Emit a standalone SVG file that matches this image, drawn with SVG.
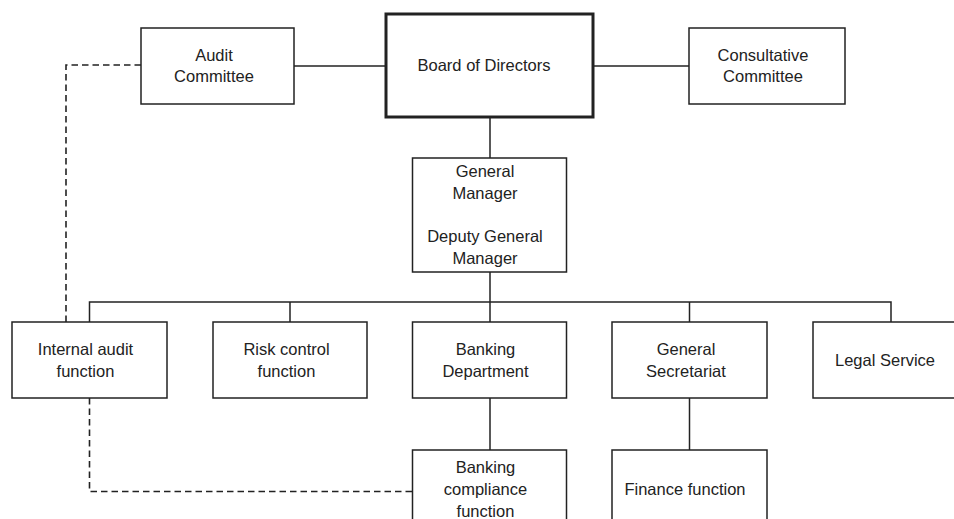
<svg xmlns="http://www.w3.org/2000/svg" width="954" height="519" viewBox="0 0 954 519">
<style>
.box{fill:#fff;stroke:#222;stroke-width:1.5}
.thick{fill:#fff;stroke:#222;stroke-width:3}
.ln{fill:none;stroke:#222;stroke-width:1.5}
.dash{fill:none;stroke:#222;stroke-width:1.6;stroke-dasharray:6.5,4}
text{font-family:"Liberation Sans",Arial,sans-serif;font-size:16.5px;fill:#222;text-anchor:middle}
</style>
<rect width="954" height="519" fill="#fff"/>
<g id="connectors">
<line class="ln" x1="294" y1="66" x2="386" y2="66"/>
<line class="ln" x1="593" y1="66" x2="689" y2="66"/>
<line class="ln" x1="490" y1="117" x2="490" y2="158"/>
<line class="ln" x1="490" y1="272" x2="490" y2="302"/>
<polyline class="ln" points="89.5,322 89.5,302 891,302 891,322"/>
<line class="ln" x1="290" y1="302" x2="290" y2="322"/>
<line class="ln" x1="490" y1="302" x2="490" y2="322"/>
<line class="ln" x1="689.5" y1="302" x2="689.5" y2="322"/>
<line class="ln" x1="490" y1="398" x2="490" y2="450"/>
<line class="ln" x1="689.5" y1="398" x2="689.5" y2="450"/>
<polyline class="dash" points="141,65 66,65 66,322"/>
<polyline class="dash" points="89.5,398 89.5,491.5 412,491.5"/>
</g>
<g id="audit-committee">
<rect class="box" x="141" y="28" width="153" height="76"/>
<text x="214" y="60.7">Audit</text>
<text x="214" y="82.3">Committee</text>
</g>
<g id="board">
<rect class="thick" x="386" y="14" width="207" height="103"/>
<text x="484" y="71">Board of Directors</text>
</g>
<g id="consultative-committee">
<rect class="box" x="689" y="28" width="156" height="76"/>
<text x="763" y="60.7">Consultative</text>
<text x="763" y="82.3">Committee</text>
</g>
<g id="general-manager">
<rect class="box" x="412.5" y="158" width="154" height="114"/>
<text x="485" y="177.3">General</text>
<text x="485" y="199">Manager</text>
<text x="485" y="242.3">Deputy General</text>
<text x="485" y="264">Manager</text>
</g>
<g id="internal-audit">
<rect class="box" x="12" y="322" width="155" height="76"/>
<text x="85.5" y="355">Internal audit</text>
<text x="85.5" y="376.7">function</text>
</g>
<g id="risk-control">
<rect class="box" x="213" y="322" width="154" height="76"/>
<text x="286.5" y="355">Risk control</text>
<text x="286.5" y="376.7">function</text>
</g>
<g id="banking-department">
<rect class="box" x="412.5" y="322" width="154" height="76"/>
<text x="485.5" y="355">Banking</text>
<text x="485.5" y="376.7">Department</text>
</g>
<g id="general-secretariat">
<rect class="box" x="612" y="322" width="155" height="76"/>
<text x="686" y="355">General</text>
<text x="686" y="376.7">Secretariat</text>
</g>
<g id="legal-service">
<rect class="box" x="813" y="322" width="155" height="76"/>
<text x="885" y="366">Legal Service</text>
</g>
<g id="banking-compliance">
<rect class="box" x="412.5" y="450" width="154" height="80"/>
<text x="485.5" y="473.3">Banking</text>
<text x="485.5" y="495">compliance</text>
<text x="485.5" y="516.7">function</text>
</g>
<g id="finance-function">
<rect class="box" x="612" y="450" width="155" height="80"/>
<text x="685" y="495">Finance function</text>
</g>
</svg>
